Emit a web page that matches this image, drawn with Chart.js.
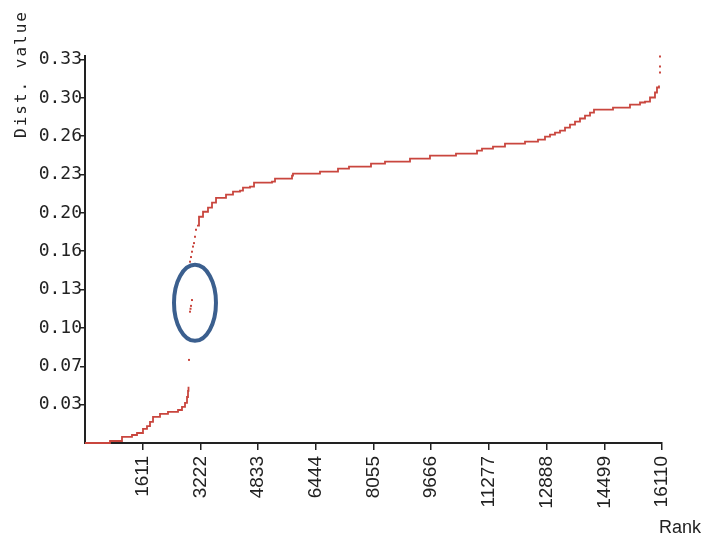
<!DOCTYPE html>
<html>
<head>
<meta charset="utf-8">
<script src="https://cdn.jsdelivr.net/npm/chart.js@4"></script>
<style>
  body { margin: 0; background: #fff; }
  #wrap { width: 705px; height: 538px; position: relative; }
</style>
</head>
<body>
<div id="wrap"><canvas id="chart"></canvas></div>
<script>
// rank / distance values (step corners)
const lowerRank = [0, 698, 1033, 1312, 1452, 1619, 1731, 1815, 1899, 2094, 2317, 2597, 2708, 2792, 2848, 2876, 2890];
const lowerValue = [0, 0.0017, 0.0052, 0.0069, 0.0086, 0.0121, 0.0146, 0.0181, 0.0224, 0.025, 0.0267, 0.0284, 0.031, 0.0345, 0.0396, 0.0448, 0.0483];

const upperRank = [3127, 3183, 3295, 3434, 3546, 3658, 3937, 4132, 4328, 4411, 4607, 4719, 5221, 5305, 5780, 5807,
  6561, 7064, 7371, 7985, 8376, 9074, 9632, 10358, 10945, 11084, 11391, 11726, 12285, 12648, 12843, 12983, 13122,
  13262, 13402, 13541, 13681, 13820, 13960, 14100, 14211, 14742, 15216, 15496, 15635, 15775, 15914, 15970, 16026];
const upperValue = [0.187, 0.1947, 0.199, 0.2025, 0.2068, 0.211, 0.2137, 0.2163, 0.2171, 0.2197, 0.2206, 0.224, 0.2249, 0.2275, 0.230, 0.2318,
  0.2335, 0.2361, 0.2378, 0.2404, 0.2421, 0.2447, 0.2473, 0.249, 0.2516, 0.2533, 0.255, 0.2576, 0.2594, 0.2611, 0.2637, 0.2654, 0.2671,
  0.2688, 0.2714, 0.274, 0.2766, 0.2792, 0.2817, 0.2843, 0.2869, 0.2886, 0.2912, 0.293, 0.2938, 0.2973, 0.3016, 0.3059, 0.3076];

// isolated points in the jumps
const dotRank = [2904, 2932, 2946, 2960, 2987, 2932, 2960, 2987, 3015, 3043, 3071, 3099, 16054, 16054, 16054];
const dotValue = [0.0715, 0.113, 0.1155, 0.118, 0.123, 0.156, 0.160, 0.1646, 0.169, 0.172, 0.1775, 0.1835, 0.3188, 0.324, 0.3326];

const xTicks = [1611, 3222, 4833, 6444, 8055, 9666, 11277, 12888, 14499, 16110];
const xTickLabels = ['1611', '3222', '4833', '6444', '8055', '9666', '11277', '12888', '14499', '16110'];
const yTicks = [0.033, 0.066, 0.099, 0.132, 0.165, 0.198, 0.231, 0.264, 0.297, 0.33];
const yTickLabels = ['0.03', '0.07', '0.10', '0.13', '0.16', '0.20', '0.23', '0.26', '0.30', '0.33'];

// highlighted region (data units)
const markCenter = { x: 3071, y: 0.1206 };
const markRadius = { x: 586, y: 0.0327 };

const red = '#c9463e';
const ink = '#222';

const toPoints = (xs, ys) => xs.map((x, i) => ({ x: x, y: ys[i] }));

const extras = {
  id: 'extras',
  afterDatasetsDraw(chart) {
    const { ctx, scales: { x, y } } = chart;
    const cx = x.getPixelForValue(markCenter.x);
    const cy = y.getPixelForValue(markCenter.y);
    const rx = x.getPixelForValue(markCenter.x + markRadius.x) - cx;
    const ry = cy - y.getPixelForValue(markCenter.y + markRadius.y);
    ctx.save();
    ctx.strokeStyle = '#3b5f8e';
    ctx.lineWidth = 4;
    ctx.beginPath();
    ctx.ellipse(cx, cy, rx, ry, 0, 0, Math.PI * 2);
    ctx.stroke();
    ctx.restore();
  },
  afterDraw(chart) {
    const ctx = chart.ctx;
    ctx.save();
    ctx.fillStyle = ink;
    ctx.font = '18px "Liberation Sans"';
    ctx.textAlign = 'left';
    ctx.textBaseline = 'alphabetic';
    ctx.fillText('Rank', 659, 533);
    ctx.translate(22, 138);
    ctx.rotate(-Math.PI / 2);
    ctx.font = '16px "DejaVu Sans Mono"';
    ctx.letterSpacing = '2px';
    ctx.textBaseline = 'middle';
    ctx.fillText('Dist. value', 0, 0);
    ctx.restore();
  }
};

new Chart(document.getElementById('chart'), {
  type: 'scatter',
  data: {
    datasets: [
      {
        data: toPoints(lowerRank, lowerValue),
        showLine: true,
        stepped: true,
        borderColor: red,
        borderWidth: 1.8,
        pointRadius: 0,
        clip: false
      },
      {
        data: toPoints(upperRank, upperValue),
        showLine: true,
        stepped: true,
        borderColor: red,
        borderWidth: 1.8,
        pointRadius: 0,
        clip: false
      },
      {
        data: toPoints(dotRank, dotValue),
        showLine: false,
        pointStyle: 'rect',
        pointRadius: 1.4,
        backgroundColor: red,
        borderColor: red,
        borderWidth: 0,
        clip: false
      }
    ]
  },
  options: {
    responsive: true,
    maintainAspectRatio: false,
    animation: false,
    layout: { padding: { top: 56, right: 43, left: 0, bottom: 0 } },
    plugins: { legend: { display: false }, tooltip: { enabled: false } },
    scales: {
      x: {
        type: 'linear',
        min: 0,
        max: 16110,
        afterBuildTicks: (s) => { s.ticks = xTicks.map(v => ({ value: v })); },
        afterFit: (s) => { s.height = 95; },
        border: { color: ink, width: 2 },
        grid: { drawOnChartArea: false, drawTicks: true, tickLength: 7, color: ink, lineWidth: 1.5 },
        ticks: {
          autoSkip: false,
          minRotation: 90,
          maxRotation: 90,
          padding: 6,
          color: ink,
          font: { family: '"Liberation Sans"', size: 19 },
          callback: (v) => xTickLabels[xTicks.indexOf(v)]
        }
      },
      y: {
        min: 0,
        max: 0.333,
        afterBuildTicks: (s) => { s.ticks = yTicks.map(v => ({ value: v })); },
        afterFit: (s) => { s.width = 85; },
        border: { color: ink, width: 2 },
        grid: { drawOnChartArea: false, drawTicks: true, tickLength: 5, color: ink, lineWidth: 1.5 },
        ticks: {
          padding: -2,
          color: ink,
          font: { family: '"DejaVu Sans Mono"', size: 18 },
          callback: (v) => yTickLabels[yTicks.indexOf(v)]
        }
      }
    }
  },
  plugins: [extras]
});
</script>
</body>
</html>
